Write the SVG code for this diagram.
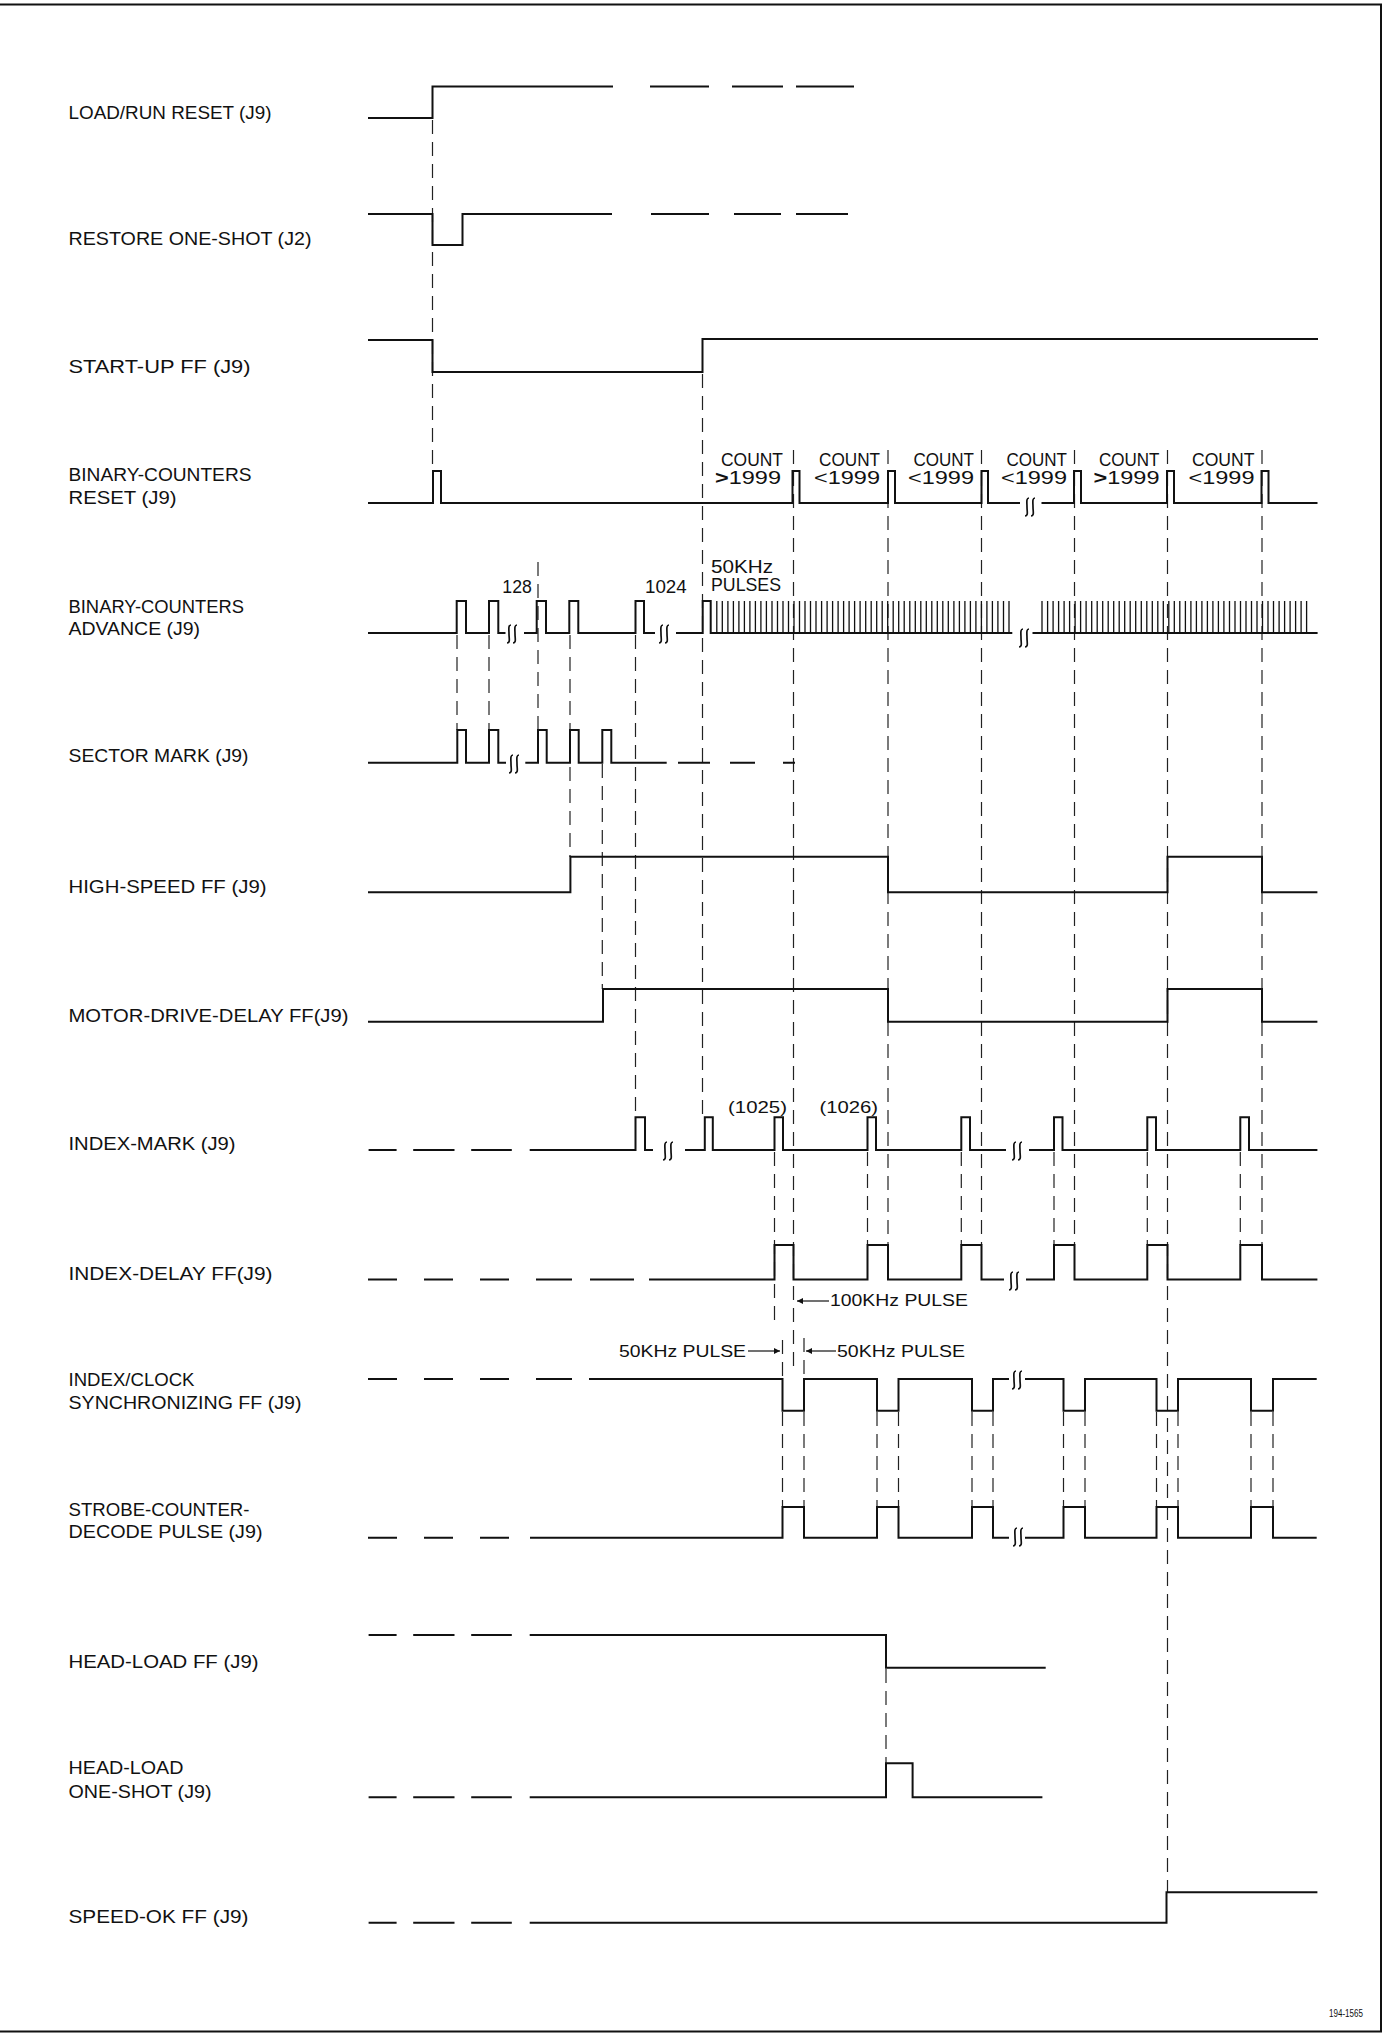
<svg xmlns="http://www.w3.org/2000/svg" xmlns:xlink="http://www.w3.org/1999/xlink" width="1384" height="2036" viewBox="0 0 1384 2036">
<style>
.bg{fill:#fff}
.sig{fill:none;stroke:#111;stroke-width:2;stroke-linejoin:miter;stroke-linecap:butt}
.tk{fill:none;stroke:#111;stroke-width:1.3}
.gd{fill:none;stroke:#222;stroke-width:1.2;stroke-dasharray:14 8}
.brd{fill:none;stroke:#111;stroke-width:2}
.brk{fill:none;stroke:#111;stroke-width:1.7}
.arw{fill:none;stroke:#111;stroke-width:1.2}
text{font-family:"Liberation Sans",Arial,sans-serif;fill:#111}
.lb{font-size:18px}
.ct{font-size:17.5px}
.sm{font-size:16px}
</style>
<defs>
<g id="brk"><path class="brk" d="M-1,-9 C-4,-9 -3,-4.5 -3,0 C-3,4.5 -1.5,9 -5,9 M5,-9 C2,-9 3,-4.5 3,0 C3,4.5 4.5,9 1,9"/></g>
<marker id="ah" viewBox="0 0 10 10" refX="10" refY="5" markerWidth="8" markerHeight="6" markerUnits="userSpaceOnUse" orient="auto"><path d="M0,0 L10,5 L0,10 z" fill="#111"/></marker>
</defs>
<rect class="bg" x="0" y="0" width="1384" height="2036"/>
<polyline class="brd" points="0,4.5 1381,4.5 1381,2031.5 0,2031.5"/>

<g id="connectors">
<line class="gd" x1="432.5" y1="120" x2="432.5" y2="471"/>
<line class="gd" x1="702.5" y1="374" x2="702.5" y2="1117"/>
<line class="gd" x1="793.5" y1="450" x2="793.5" y2="1372"/>
<line class="gd" x1="888" y1="450" x2="888" y2="1245"/>
<line class="gd" x1="981.5" y1="450" x2="981.5" y2="1245"/>
<line class="gd" x1="1074.5" y1="450" x2="1074.5" y2="1245"/>
<line class="gd" x1="1167.5" y1="450" x2="1167.5" y2="1892"/>
<line class="gd" x1="1262" y1="450" x2="1262" y2="1245"/>
<line class="gd" x1="457" y1="635" x2="457" y2="730"/>
<line class="gd" x1="489" y1="635" x2="489" y2="730"/>
<line class="gd" x1="538" y1="562" x2="538" y2="730"/>
<line class="gd" x1="570" y1="635" x2="570" y2="857"/>
<line class="gd" x1="602.3" y1="764" x2="602.3" y2="989"/>
<line class="gd" x1="635.5" y1="635" x2="635.5" y2="1117"/>
<line class="gd" x1="774.5" y1="1152" x2="774.5" y2="1320"/>
<line class="gd" x1="867.5" y1="1152" x2="867.5" y2="1245"/>
<line class="gd" x1="961.3" y1="1152" x2="961.3" y2="1245"/>
<line class="gd" x1="1054" y1="1152" x2="1054" y2="1245"/>
<line class="gd" x1="1147.3" y1="1152" x2="1147.3" y2="1245"/>
<line class="gd" x1="1240.3" y1="1152" x2="1240.3" y2="1245"/>
<line class="gd" x1="782.5" y1="1340" x2="782.5" y2="1379"/>
<line class="gd" x1="804" y1="1338" x2="804" y2="1379"/>
<line class="gd" x1="782.5" y1="1412" x2="782.5" y2="1507"/>
<line class="gd" x1="804" y1="1412" x2="804" y2="1507"/>
<line class="gd" x1="877" y1="1412" x2="877" y2="1507"/>
<line class="gd" x1="898.5" y1="1412" x2="898.5" y2="1507"/>
<line class="gd" x1="972" y1="1412" x2="972" y2="1507"/>
<line class="gd" x1="993" y1="1412" x2="993" y2="1507"/>
<line class="gd" x1="1063.5" y1="1412" x2="1063.5" y2="1507"/>
<line class="gd" x1="1085" y1="1412" x2="1085" y2="1507"/>
<line class="gd" x1="1156.5" y1="1412" x2="1156.5" y2="1507"/>
<line class="gd" x1="1178" y1="1412" x2="1178" y2="1507"/>
<line class="gd" x1="1251" y1="1412" x2="1251" y2="1507"/>
<line class="gd" x1="1273" y1="1412" x2="1273" y2="1507"/>
<line class="gd" x1="886" y1="1669" x2="886" y2="1763"/>
<line class="arw" x1="829" y1="1301" x2="797" y2="1301" marker-end="url(#ah)"/>
<line class="arw" x1="748" y1="1351" x2="780" y2="1351" marker-end="url(#ah)"/>
<line class="arw" x1="836" y1="1351" x2="806" y2="1351" marker-end="url(#ah)"/>
<text class="sm" x="830" y="1306" textLength="138" lengthAdjust="spacingAndGlyphs">100KHz PULSE</text>
<text class="sm" x="619" y="1356.5" textLength="127" lengthAdjust="spacingAndGlyphs">50KHz PULSE</text>
<text class="sm" x="837" y="1356.5" textLength="128" lengthAdjust="spacingAndGlyphs">50KHz PULSE</text>
</g>

<g id="load-run-reset">
<text class="lb" x="68.5" y="119.4" textLength="203" lengthAdjust="spacingAndGlyphs">LOAD/RUN RESET (J9)</text>
<path class="sig" d="M368,118 H432.5 V86.5 H613 M650,86.5 H709 M732,86.5 H783 M796,86.5 H854"/>
</g>

<g id="restore-one-shot">
<text class="lb" x="68.5" y="245.3" textLength="243" lengthAdjust="spacingAndGlyphs">RESTORE  ONE-SHOT (J2)</text>
<path class="sig" d="M368,214 H432.5 V245 H462.5 V214 H612 M651,214 H709 M734,214 H781 M796,214 H848"/>
</g>

<g id="start-up-ff">
<text class="lb" x="68.5" y="372.8" textLength="182" lengthAdjust="spacingAndGlyphs">START-UP FF (J9)</text>
<path class="sig" d="M368,340 H432.5 V372 H702.5 V339 H1318"/>
</g>

<g id="binary-counters-reset">
<text class="lb" x="68.5" y="481" textLength="183" lengthAdjust="spacingAndGlyphs">BINARY-COUNTERS</text>
<text class="lb" x="68.5" y="504" textLength="108" lengthAdjust="spacingAndGlyphs">RESET (J9)</text>
<path class="sig" d="M368,503 H433 V471 H441 V503 H792.5 V471 H799.5 V503 H888 V471 H895 V503 H981.5 V471 H988 V503 H1020 M1041.5,503 H1074 V471 H1081 V503 H1167 V471 H1174 V503 H1261.5 V471 H1268.5 V503 H1317.5"/>
<use href="#brk" transform="translate(1030,507)"/>
<text class="ct" x="721" y="465.5" textLength="62" lengthAdjust="spacingAndGlyphs">COUNT</text>
<text class="ct" x="819" y="465.5" textLength="61" lengthAdjust="spacingAndGlyphs">COUNT</text>
<text class="ct" x="913.5" y="465.5" textLength="60.5" lengthAdjust="spacingAndGlyphs">COUNT</text>
<text class="ct" x="1006.5" y="465.5" textLength="60.5" lengthAdjust="spacingAndGlyphs">COUNT</text>
<text class="ct" x="1099" y="465.5" textLength="60.5" lengthAdjust="spacingAndGlyphs">COUNT</text>
<text class="ct" x="1192" y="465.5" textLength="62.5" lengthAdjust="spacingAndGlyphs">COUNT</text>
<text class="ct" x="715" y="483.5" textLength="66" lengthAdjust="spacingAndGlyphs"><tspan font-weight="bold">&gt;</tspan>1999</text>
<text class="ct" x="814" y="483.5" textLength="66" lengthAdjust="spacingAndGlyphs">&lt;1999</text>
<text class="ct" x="908" y="483.5" textLength="66" lengthAdjust="spacingAndGlyphs">&lt;1999</text>
<text class="ct" x="1001" y="483.5" textLength="66" lengthAdjust="spacingAndGlyphs">&lt;1999</text>
<text class="ct" x="1093.5" y="483.5" textLength="66" lengthAdjust="spacingAndGlyphs"><tspan font-weight="bold">&gt;</tspan>1999</text>
<text class="ct" x="1188.5" y="483.5" textLength="66" lengthAdjust="spacingAndGlyphs">&lt;1999</text>
</g>

<g id="binary-counters-advance">
<text class="lb" x="68.5" y="612.7" textLength="175.6" lengthAdjust="spacingAndGlyphs">BINARY-COUNTERS</text>
<text class="lb" x="68.5" y="635" textLength="131.6" lengthAdjust="spacingAndGlyphs">ADVANCE (J9)</text>
<path class="sig" d="M368,633 H456.7 V601 H466 V633 H489 V601 H498.3 V633 H505.5 M524,633 H536.7 V601 H546 V633 H569.3 V601 H578.3 V633 H635.5 V601 H644 V633 H655 M676,633 H702.7 V601 H710.7 V633 H1012.3 M1032.5,633 H1317.6"/>
<path class="tk" d="M716.8,633V601M722.3,633V601M727.9,633V601M733.4,633V601M738.9,633V601M744.4,633V601M749.9,633V601M755.4,633V601M760.9,633V601M766.4,633V601M772,633V601M777.5,633V601M783,633V601M788.5,633V601M794,633V601M799.5,633V601M805,633V601M810.5,633V601M816,633V601M821.6,633V601M827.1,633V601M832.6,633V601M838.1,633V601M843.6,633V601M849.1,633V601M854.6,633V601M860.1,633V601M865.7,633V601M871.2,633V601M876.7,633V601M882.2,633V601M887.7,633V601M893.2,633V601M898.7,633V601M904.2,633V601M909.8,633V601M915.3,633V601M920.8,633V601M926.3,633V601M931.8,633V601M937.3,633V601M942.8,633V601M948.3,633V601M953.9,633V601M959.4,633V601M964.9,633V601M970.4,633V601M975.9,633V601M981.4,633V601M986.9,633V601M992.4,633V601M997.9,633V601M1003.5,633V601M1009,633V601M1042,633V601M1047.6,633V601M1053.1,633V601M1058.6,633V601M1064.1,633V601M1069.6,633V601M1075.1,633V601M1080.6,633V601M1086.1,633V601M1091.7,633V601M1097.2,633V601M1102.7,633V601M1108.2,633V601M1113.7,633V601M1119.2,633V601M1124.7,633V601M1130.2,633V601M1135.7,633V601M1141.3,633V601M1146.8,633V601M1152.3,633V601M1157.8,633V601M1163.3,633V601M1168.8,633V601M1174.3,633V601M1179.8,633V601M1185.4,633V601M1190.9,633V601M1196.4,633V601M1201.9,633V601M1207.4,633V601M1212.9,633V601M1218.4,633V601M1223.9,633V601M1229.5,633V601M1235,633V601M1240.5,633V601M1246,633V601M1251.5,633V601M1257,633V601M1262.5,633V601M1268,633V601M1273.5,633V601M1279.1,633V601M1284.6,633V601M1290.1,633V601M1295.6,633V601M1301.1,633V601M1306.6,633V601"/>
<use href="#brk" transform="translate(512,634)"/>
<use href="#brk" transform="translate(664,634)"/>
<use href="#brk" transform="translate(1024,638)"/>
<text class="ct" x="502.3" y="592.7" textLength="29.5" lengthAdjust="spacingAndGlyphs">128</text>
<text class="ct" x="645" y="592.7" textLength="41.7" lengthAdjust="spacingAndGlyphs">1024</text>
<text class="ct" x="711" y="572.7" textLength="62" lengthAdjust="spacingAndGlyphs">50KHz</text>
<text class="ct" x="711" y="590.7" textLength="70" lengthAdjust="spacingAndGlyphs">PULSES</text>
</g>

<g id="sector-mark">
<text class="lb" x="68.5" y="762.4" textLength="180" lengthAdjust="spacingAndGlyphs">SECTOR MARK (J9)</text>
<path class="sig" d="M368,762.7 H457.3 V730 H466 V762.7 H489 V730 H498.3 V762.7 H506 M525.3,762.7 H538 V730 H546.7 V762.7 H570 V730 H578.7 V762.7 H602.3 V730 H611.3 V762.7 H666.7 M678,762.7 H710 M730,762.7 H755 M783,762.7 H795"/>
<use href="#brk" transform="translate(514,764)"/>
</g>

<g id="high-speed-ff">
<text class="lb" x="68.5" y="893.3" textLength="198" lengthAdjust="spacingAndGlyphs">HIGH-SPEED FF (J9)</text>
<path class="sig" d="M368,892.3 H570.4 V856.7 H888 V892.3 H1167.5 V856.7 H1262 V892.3 H1317.4"/>
</g>

<g id="motor-drive-delay-ff">
<text class="lb" x="68.5" y="1021.5" textLength="280" lengthAdjust="spacingAndGlyphs">MOTOR-DRIVE-DELAY FF(J9)</text>
<path class="sig" d="M368,1021.7 H603 V989 H888 V1021.7 H1167.5 V989 H1262 V1021.7 H1317.4"/>
</g>

<g id="index-mark">
<text class="lb" x="68.5" y="1149.7" textLength="167" lengthAdjust="spacingAndGlyphs">INDEX-MARK (J9)</text>
<path class="sig" d="M368.6,1150 H396.6 M413.2,1150 H454.5 M471.2,1150 H511.8 M529.7,1150 H635.5 V1117.3 H645 V1150 H653 M685,1150 H704.8 V1117.3 H712.8 V1150 H774.5 V1117.3 H783 V1150 H867.5 V1117.3 H876 V1150 H961.3 V1117.3 H970 V1150 H1006 M1029,1150 H1054 V1117.3 H1062.5 V1150 H1147.3 V1117.3 H1156 V1150 H1240.3 V1117.3 H1249 V1150 H1317.4"/>
<use href="#brk" transform="translate(668,1151)"/>
<use href="#brk" transform="translate(1017,1151)"/>
<text class="sm" x="728" y="1113.3" textLength="59" lengthAdjust="spacingAndGlyphs">(1025)</text>
<text class="sm" x="819.4" y="1113.3" textLength="58.6" lengthAdjust="spacingAndGlyphs">(1026)</text>
</g>

<g id="index-delay-ff">
<text class="lb" x="68.5" y="1279.8" textLength="204" lengthAdjust="spacingAndGlyphs">INDEX-DELAY FF(J9)</text>
<path class="sig" d="M368,1279.5 H397 M424,1279.5 H453 M480,1279.5 H509 M536,1279.5 H572 M590,1279.5 H634 M649,1279.5 H774.5 V1245 H793.5 V1279.5 H867.5 V1245 H888 V1279.5 H961.3 V1245 H981.5 V1279.5 H1004 M1026,1279.5 H1054 V1245 H1074.5 V1279.5 H1147.3 V1245 H1167.5 V1279.5 H1240.3 V1245 H1262 V1279.5 H1317.4"/>
<use href="#brk" transform="translate(1014,1281)"/>
</g>

<g id="index-clock-sync-ff">
<text class="lb" x="68.5" y="1385.8" textLength="126" lengthAdjust="spacingAndGlyphs">INDEX/CLOCK</text>
<text class="lb" x="68.5" y="1408.6" textLength="233" lengthAdjust="spacingAndGlyphs">SYNCHRONIZING  FF (J9)</text>
<path class="sig" d="M368,1379 H397 M424,1379 H453 M480,1379 H509 M536,1379 H572 M589,1379 H782.5 V1410.7 H804 V1379 H877 V1410.7 H898.5 V1379 H972 V1410.7 H993 V1379 H1009 M1025,1379 H1063.5 V1410.7 H1085 V1379 H1156.5 V1410.7 H1178 V1379 H1251 V1410.7 H1273 V1379 H1316.7"/>
<use href="#brk" transform="translate(1017,1380)"/>
</g>

<g id="strobe-counter-decode-pulse">
<text class="lb" x="68.5" y="1515.6" textLength="181" lengthAdjust="spacingAndGlyphs">STROBE-COUNTER-</text>
<text class="lb" x="68.5" y="1537.6" textLength="194" lengthAdjust="spacingAndGlyphs">DECODE PULSE (J9)</text>
<path class="sig" d="M368,1537.7 H397 M424,1537.7 H453 M480,1537.7 H509 M530,1537.7 H782.5 V1507 H804 V1537.7 H877 V1507 H898.5 V1537.7 H972 V1507 H993 V1537.7 H1009 M1025,1537.7 H1063.5 V1507 H1085 V1537.7 H1156.5 V1507 H1178 V1537.7 H1251 V1507 H1273 V1537.7 H1316.7"/>
<use href="#brk" transform="translate(1018,1537)"/>
</g>

<g id="head-load-ff">
<text class="lb" x="68.5" y="1667.7" textLength="190" lengthAdjust="spacingAndGlyphs">HEAD-LOAD FF (J9)</text>
<path class="sig" d="M368.6,1635 H396.6 M413.2,1635 H454.5 M471.2,1635 H511.8 M529.7,1635 H886 V1667.7 H1045.7"/>
</g>

<g id="head-load-one-shot">
<text class="lb" x="68.5" y="1773.9" textLength="115" lengthAdjust="spacingAndGlyphs">HEAD-LOAD</text>
<text class="lb" x="68.5" y="1797.5" textLength="143" lengthAdjust="spacingAndGlyphs">ONE-SHOT (J9)</text>
<path class="sig" d="M368.6,1797.3 H396.6 M413.2,1797.3 H454.5 M471.2,1797.3 H511.8 M529.7,1797.3 H886 V1763.3 H912.6 V1797.3 H1042.4"/>
</g>

<g id="speed-ok-ff">
<text class="lb" x="68.5" y="1922.7" textLength="180" lengthAdjust="spacingAndGlyphs">SPEED-OK FF (J9)</text>
<path class="sig" d="M368.6,1922.7 H396.6 M413.2,1922.7 H454.5 M471.2,1922.7 H511.8 M529.7,1922.7 H1166.5 V1892.3 H1317.4"/>
</g>

<text x="1329" y="2016.7" font-size="11.5" textLength="34" lengthAdjust="spacingAndGlyphs">194-1565</text>
</svg>
